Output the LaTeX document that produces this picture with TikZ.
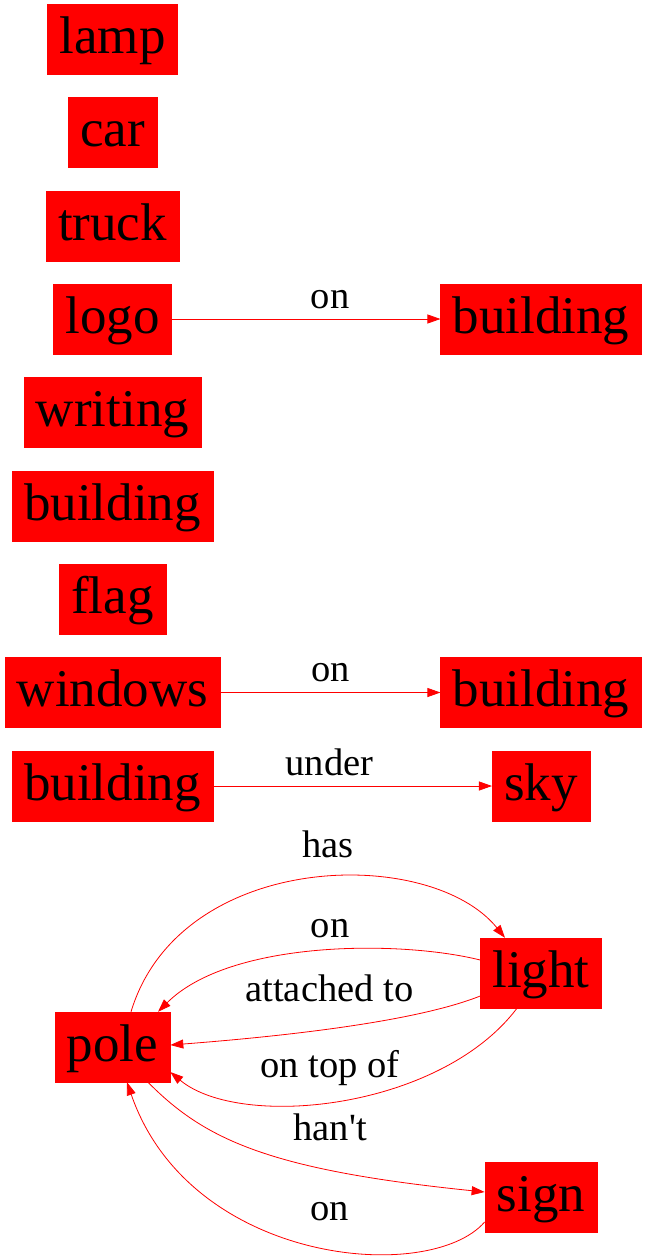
\documentclass[tikz,border=0pt]{standalone}
\usepackage{fontspec}
\setmainfont{Liberation Serif}
\usetikzlibrary{arrows.meta,positioning}

\begin{document}
\begin{tikzpicture}[x=1pt, y=-1pt, >={Triangle[length=13pt,width=9pt]},
  obj/.style={rectangle, fill=red, draw=red, minimum height=70pt, inner xsep=12pt,
    font=\fontsize{53}{60}\selectfont, text height=39pt, text depth=10.5pt},
  rel/.style={font=\fontsize{38.5}{44}\selectfont, anchor=base, inner sep=0pt, text=black}]
  \useasboundingbox (0,0) rectangle (647,1259);

  % objects
  \node[obj] (lamp) at (112.5,39.5) {lamp};
  \node[obj] (car) at (112.5,132.5) {car};
  \node[obj] (truck) at (112.5,226) {truck};
  \node[obj] (logo) at (112.5,319) {logo};
  \node[obj] (bldgA) at (541,319) {building};
  \node[obj] (writing) at (112.5,412.5) {writing};
  \node[obj] (bldgB) at (112.5,506) {building};
  \node[obj] (flag) at (112.5,599.5) {flag};
  \node[obj] (windows) at (112.5,692.5) {windows};
  \node[obj] (bldgC) at (541,692.5) {building};
  \node[obj] (bldgD) at (112.5,786) {building};
  \node[obj] (sky) at (541,786) {sky};
  \node[obj] (light) at (541,973) {light};
  \node[obj] (pole) at (112.5,1047) {pole};
  \node[obj] (sign) at (541,1197) {sign};

  % relations
  \path[->, red, line width=0.8pt]
    (logo) edge node [rel, xshift=24pt, yshift=11pt] {on} (bldgA)
    (windows) edge node [rel, yshift=11pt] {on} (bldgC)
    (bldgD) edge node [rel, xshift=-23pt, yshift=11pt] {under} (sky);

  \draw[->, red, line width=0.8pt] ([xshift=18.5pt]pole.north)
    .. controls (180,850) and (430,845) .. ([xshift=-36pt]light.north)
    node [rel, pos=0.5, xshift=20pt, yshift=22pt] {has};
  \draw[->, red, line width=0.8pt] ([yshift=13pt]light.west)
    .. controls (400,940) and (230,940) .. ([xshift=45.5pt]pole.north)
    node [rel, pos=0.5, xshift=14pt, yshift=13.5pt] {on};
  \draw[->, red, line width=0.8pt] ([yshift=-23pt]light.west)
    .. controls (420,1020) and (300,1035) .. ([yshift=2pt]pole.east)
    node [rel, pos=0.5, xshift=-22pt, yshift=24pt] {attached to};
  \draw[->, red, line width=0.8pt] ([xshift=-24pt]light.south)
    .. controls (440,1110) and (240,1130) .. ([yshift=-25pt]pole.east)
    node [rel, pos=0.5, xshift=-11pt, yshift=23pt] {on top of};
  \draw[->, red, line width=0.8pt] ([xshift=35.5pt]pole.south)
    .. controls (205,1140) and (270,1170) .. ([yshift=5pt]sign.west)
    node [rel, pos=0.5, xshift=73pt, yshift=10.5pt] {han\textquotesingle t};
  \draw[->, red, line width=0.8pt] ([yshift=-25pt]sign.west)
    .. controls (430,1285) and (190,1265) .. ([xshift=14.5pt]pole.south)
    node [rel, pos=0.5, xshift=21pt, yshift=24pt] {on};
\end{tikzpicture}
\end{document}
